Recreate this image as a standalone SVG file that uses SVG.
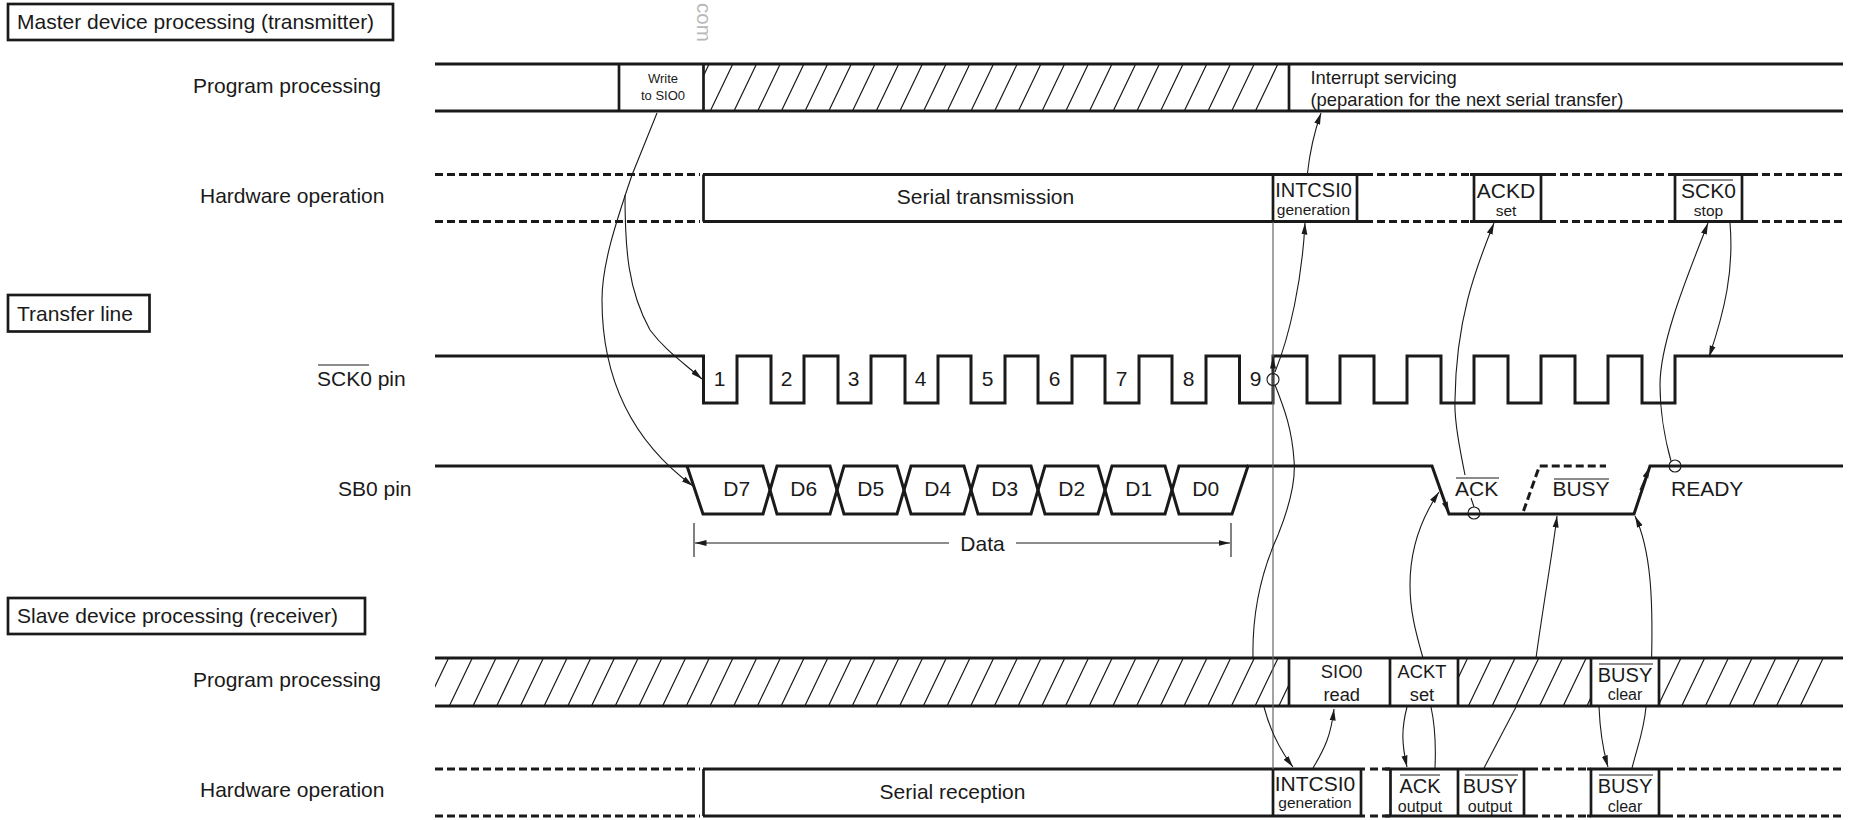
<svg xmlns="http://www.w3.org/2000/svg" width="1855" height="820" viewBox="0 0 1855 820">
<style>
text{font-family:"Liberation Sans",Arial,sans-serif;font-size:21px;fill:#1a1a1a}
.m{text-anchor:middle}
.s{font-size:15.5px}
.k{font-size:16px}
.w{font-size:13px}
.b{font-size:20px}
.p{font-size:18.3px}
.i{font-size:18.4px}
.box{fill:#fff;stroke:#1a1a1a;stroke-width:2.7}
.t{fill:none;stroke:#1a1a1a;stroke-width:3}
.d{fill:none;stroke:#1a1a1a;stroke-width:3;stroke-dasharray:8 4}
.v{fill:none;stroke:#1a1a1a;stroke-width:2.7}
.o{stroke:#1a1a1a;stroke-width:1.2}
.c{fill:none;stroke:#1a1a1a;stroke-width:1.1}
.a{marker-end:url(#arr)}
.h{fill:none;stroke:#1a1a1a;stroke-width:1.2}
</style>
<defs>
<marker id="arr" markerUnits="userSpaceOnUse" markerWidth="12" markerHeight="8" viewBox="0 0 12 8" refX="11.5" refY="4" orient="auto"><path d="M0 1L11.5 4L0 7z" fill="#1a1a1a"/></marker>
<clipPath id="clip-top"><rect x="703.500" y="64" width="585.500" height="47"/></clipPath>
<clipPath id="clip-bottom"><rect x="435" y="658" width="854" height="48"/><rect x="1458" y="658" width="133" height="48"/><rect x="1659" y="658" width="184" height="48"/></clipPath>
</defs>

<text x="697" y="3" transform="rotate(90 697 3)" style="fill:#b9b9b9;font-size:20.500px">com</text>

<g id="label-master"><rect class="box" x="8" y="4" width="385" height="36"/><text x="17" y="29">Master device processing (transmitter)</text></g>
<g id="label-transfer"><rect class="box" x="8" y="295" width="141.500" height="36.500"/><text x="17" y="321">Transfer line</text></g>
<g id="label-slave"><rect class="box" x="8" y="598" width="357" height="36"/><text x="17" y="623">Slave device processing (receiver)</text></g>

<g id="row-labels">
<text x="193" y="93">Program processing</text>
<text x="200" y="203">Hardware operation</text>
<text x="317" y="386">SCK0 pin</text><line class="o" x1="318" y1="365" x2="369" y2="365"/>
<text x="338" y="496">SB0 pin</text>
<text x="193" y="687">Program processing</text>
<text x="200" y="797">Hardware operation</text>
</g>

<g id="master-program">
<path class="h" clip-path="url(#clip-top)" d="M662.900 111l22.500-47m1.200 47l22.500-47m1.200 47l22.500-47m1.200 47l22.500-47m1.200 47l22.500-47m1.200 47l22.500-47m1.200 47l22.500-47m1.200 47l22.500-47m1.200 47l22.500-47m1.200 47l22.500-47m1.200 47l22.500-47m1.200 47l22.500-47m1.200 47l22.500-47m1.200 47l22.500-47m1.200 47l22.500-47m1.200 47l22.500-47m1.200 47l22.500-47m1.200 47l22.500-47m1.200 47l22.500-47m1.200 47l22.500-47m1.200 47l22.500-47m1.200 47l22.500-47m1.200 47l22.500-47m1.200 47l22.500-47m1.200 47l22.500-47m1.200 47l22.500-47"/>
<path class="t" d="M435 64H1843M435 111H1843"/>
<path class="v" d="M619 64V111M703.500 64V111M1289 64V111"/>
<text class="w m" x="663" y="83">Write</text><text class="w m" x="663" y="99.500">to SIO0</text>
<text class="i" x="1310.500" y="84">Interrupt servicing</text>
<text class="i" x="1310.500" y="106">(peparation for the next serial transfer)</text>
</g>

<g id="master-hardware">
<path class="d" d="M435 174.500H700M435 221.500H700M1365 174.500H1472M1365 221.500H1472M1548 174.500H1672M1548 221.500H1672M1750 174.500H1843M1750 221.500H1843"/>
<path class="t" d="M703 174.500H1365M703 221.500H1365M1470 174.500H1548M1470 221.500H1548M1672 174.500H1750M1672 221.500H1750"/>
<path class="v" d="M703.500 174.500V221.500M1273 174.500V221.500M1357 174.500V221.500M1474 174.500V221.500M1541 174.500V221.500M1675 174.500V221.500M1742 174.500V221.500"/>
<text class="m" x="985.500" y="204">Serial transmission</text>
<text class="b m" x="1313.500" y="197">INTCSI0</text><text class="s m" x="1313.500" y="215">generation</text>
<text class="m" x="1506" y="198">ACKD</text><text class="s m" x="1506" y="216">set</text>
<text class="m" x="1708.500" y="198">SCK0</text><line class="o" x1="1683" y1="180" x2="1733" y2="180"/><text class="s m" x="1708.500" y="216">stop</text>
</g>

<g id="sck-waveform">
<path class="t" d="M435 356H703.500V403H737V356H771V403H804V356H838V403H871V356H905V403H938V356H971V403H1005V356H1038V403H1072V356H1105V403H1139V356H1172V403H1206V356H1239.500V403H1273V356H1307V403H1340V356H1374V403H1407V356H1441V403H1474V356H1508V403H1541V356H1575V403H1608V356H1642V403H1675V356H1843"/>
<text class="m" x="719.500" y="386">1</text><text class="m" x="786.500" y="386">2</text><text class="m" x="853.500" y="386">3</text><text class="m" x="920.500" y="386">4</text><text class="m" x="987.500" y="386">5</text><text class="m" x="1054.500" y="386">6</text><text class="m" x="1121.500" y="386">7</text><text class="m" x="1188.500" y="386">8</text><text class="m" x="1255.500" y="386">9</text>
</g>

<g id="sb0-waveform">
<path class="t" d="M435 466H763L777 514H830L844 466H897L911 514H964L978 466H1031L1045 514H1098L1112 466H1165L1179 514H1232L1248 466H1432L1449 514H1634L1650 466H1843"/>
<path class="t" d="M687 466L703 514H763L777 466H830L844 514H897L911 466H964L978 514H1031L1045 466H1098L1112 514H1165L1179 466H1248"/>
<path class="d" d="M1523.500 511L1539.500 466H1606"/>
<text class="m" x="736.700" y="496">D7</text><text class="m" x="803.700" y="496">D6</text><text class="m" x="870.700" y="496">D5</text><text class="m" x="937.700" y="496">D4</text><text class="m" x="1004.700" y="496">D3</text><text class="m" x="1071.700" y="496">D2</text><text class="m" x="1138.700" y="496">D1</text><text class="m" x="1205.700" y="496">D0</text>
<text x="1455" y="496">ACK</text><line class="o" x1="1456" y1="478" x2="1499" y2="478"/>
<text class="m" x="1581" y="496">BUSY</text><line class="o" x1="1554" y1="479" x2="1609" y2="479"/>
<text x="1671" y="496">READY</text>
</g>

<g id="data-span">
<path class="c" d="M694 523V557M1231 523V557"/>
<path class="c a" d="M949 543H695"/><path class="c a" d="M1016 543H1230"/>
<text class="m" x="982.500" y="551">Data</text>
</g>

<g id="slave-program">
<path class="h" clip-path="url(#clip-bottom)" d="M401.900 706l23-48m.7 48l23-48m.7 48l23-48m.7 48l23-48m.7 48l23-48m.7 48l23-48m.7 48l23-48m.7 48l23-48m.7 48l23-48m.7 48l23-48m.7 48l23-48m.7 48l23-48m.7 48l23-48m.7 48l23-48m.7 48l23-48m.7 48l23-48m.7 48l23-48m.7 48l23-48m.7 48l23-48m.7 48l23-48m.7 48l23-48m.7 48l23-48m.7 48l23-48m.7 48l23-48m.7 48l23-48m.7 48l23-48m.7 48l23-48m.7 48l23-48m.7 48l23-48m.7 48l23-48m.7 48l23-48m.7 48l23-48m.7 48l23-48m.7 48l23-48m.7 48l23-48m.7 48l23-48m.7 48l23-48m.7 48l23-48m.7 48l23-48m.7 48l23-48m.7 48l23-48m.7 48l23-48m.7 48l23-48m.7 48l23-48m.7 48l23-48m.7 48l23-48m.7 48l23-48m.7 48l23-48m.7 48l23-48m.7 48l23-48m.7 48l23-48m.7 48l23-48m.7 48l23-48m.7 48l23-48m.7 48l23-48m.7 48l23-48m.7 48l23-48m.7 48l23-48m.7 48l23-48m.7 48l23-48"/>
<path class="t" d="M435 658H1843M435 706H1843"/>
<path class="v" d="M1289 658V706M1390 658V706M1458 658V706M1591 658V706M1659 658V706"/>
<text class="p m" x="1341.700" y="678">SIO0</text><text class="p m" x="1341.700" y="701">read</text>
<text class="p m" x="1422" y="678">ACKT</text><text class="p m" x="1422" y="701">set</text>
<text class="b m" x="1625" y="682">BUSY</text><line class="o" x1="1599" y1="664" x2="1653" y2="664"/><text class="k m" x="1625" y="700">clear</text>
</g>

<g id="slave-hardware">
<path class="d" d="M435 769H700M435 816H700M1370 769H1390M1370 816H1390M1530 769H1591M1530 816H1591M1665 769H1843M1665 816H1843"/>
<path class="t" d="M703 769H1365M703 816H1365M1385 769H1530M1385 816H1530M1587 769H1665M1587 816H1665"/>
<path class="v" d="M703.500 769V816M1273 769V816M1361 769V816M1390.500 769V816M1458 769V816M1524 769V816M1591 769V816M1659 769V816"/>
<text class="m" x="952.500" y="799">Serial reception</text>
<text class="m" x="1315" y="791">INTCSI0</text><text class="s m" x="1315" y="808">generation</text>
<text class="b m" x="1420" y="793">ACK</text><line class="o" x1="1400" y1="775" x2="1440" y2="775"/><text class="k m" x="1420" y="812">output</text>
<text class="b m" x="1490" y="793">BUSY</text><line class="o" x1="1465" y1="775" x2="1518" y2="775"/><text class="k m" x="1490" y="812">output</text>
<text class="b m" x="1625" y="793">BUSY</text><line class="o" x1="1599" y1="775" x2="1653" y2="775"/><text class="k m" x="1625" y="812">clear</text>
</g>

<g id="connectors">
<line x1="1273" y1="222" x2="1273" y2="769" stroke="#666" stroke-width="1.200"/>
<path class="c a" d="M657 113L632 175C615 225 602 265 602 300C602 355 617 430 693 486"/>
<path class="c a" d="M625 195C625 250 628 290 650 330C665 350 680 360 702 379"/>
<path class="c a" d="M1275 372C1290 335 1302 280 1305 223"/>
<path class="c a" d="M1307.500 173C1310 150 1315 130 1321 113"/>
<path class="c" d="M1253 658C1252 610 1262 570 1278 535C1290 505 1296 480 1294 460C1292 430 1285 410 1275 385"/>
<path class="c" d="M1474 507L1471 498"/>
<path class="c a" d="M1465 475C1460 450 1454 420 1455 400C1456 320 1475 270 1494 223"/>
<path class="c a" d="M1671 461C1665 440 1660 410 1660 385C1660 340 1690 270 1708 223"/>
<path class="c a" d="M1730 223C1734 270 1725 310 1709 357"/>
<path class="c a" d="M1423 658C1415 630 1410 610 1410 585C1410 550 1420 520 1439 492"/>
<path class="c a" d="M1536 658C1544 600 1553 550 1557 516"/>
<path class="c a" d="M1651.600 658C1653 600 1651 550 1635 516"/>
<path class="c a" d="M1264 707C1270 730 1280 750 1293 767"/>
<path class="c a" d="M1313 768C1325 748 1331 735 1334 709"/>
<path class="c a" d="M1407 707C1401 730 1402 745 1407 767"/>
<path class="c" d="M1435 768C1436 745 1435 725 1431 707"/>
<path class="c" d="M1484 768L1516 707"/>
<path class="c a" d="M1599 707C1600 730 1603 750 1608 767"/>
<path class="c" d="M1632 768C1638 745 1644 730 1646 707"/>
<path class="c a" d="M1273 375V357"/>
<path class="c a" d="M1440 490L1449 513"/>
<path class="c a" d="M1640 490L1650 467"/>
<circle cx="1273" cy="379.500" r="6" fill="none" stroke="#1a1a1a" stroke-width="1.100"/>
<circle cx="1474" cy="513" r="6" fill="none" stroke="#1a1a1a" stroke-width="1.100"/>
<circle cx="1675" cy="466" r="6" fill="none" stroke="#1a1a1a" stroke-width="1.100"/>
</g>
</svg>
